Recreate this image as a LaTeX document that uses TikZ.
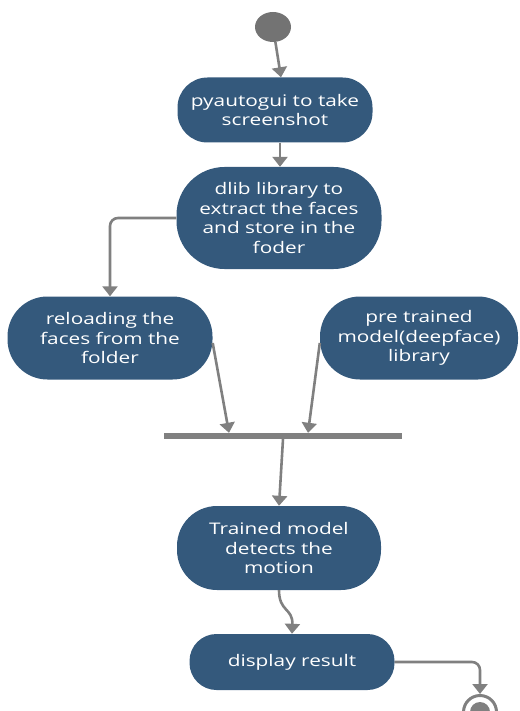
\documentclass[tikz,border=0pt]{standalone}
\usepackage{fontspec}
\setmainfont{Open Sans}[FakeStretch=1.3]
\usepackage{tikz}
\usetikzlibrary{arrows.meta, shapes.geometric}

\definecolor{actblue}{RGB}{52,89,124}
\definecolor{flowgray}{RGB}{128,128,128}

\begin{document}
\begin{tikzpicture}[x=1pt, y=-1pt,
  flow/.style={draw=flowgray, line width=2.6pt, -{Triangle[width=15pt,length=10pt]}},
  act/.style={fill=actblue, text=white, align=center, rounded corners=30pt,
    minimum width=205pt, inner sep=2pt, font=\fontsize{16}{19.5}\selectfont}]
\useasboundingbox (0,0) rectangle (519,711);

\node[ellipse, fill=flowgray!90!black, minimum width=36pt, minimum height=30pt, inner sep=0pt] (s) at (273,27) {};

  \begin{scope}[every node/.style={act}]
  \node[minimum width=195pt, minimum height=65pt] (a) at (275,110) {pyautogui to take\\screenshot};
  \node[minimum height=102pt, rounded corners=48pt] (b) at (279,218) {dlib library to\\extract the faces\\and store in the\\foder};
  \node[minimum height=83pt, rounded corners=40pt] (c) at (110,338) {reloading the\\faces from the\\folder};
  \node[minimum width=198pt, minimum height=83pt, rounded corners=40pt] (d) at (419,338) {pre trained\\model(deepface)\\library};
  \node[minimum width=204pt, minimum height=84pt, rounded corners=40pt] (e) at (279,548) {Trained model\\detects the\\motion};
  \node[minimum height=56pt, rounded corners=27pt] (f) at (292,662) {display result};
  \end{scope}

\node[fill=flowgray, minimum width=238pt, minimum height=6pt, inner sep=0pt] (bar) at (283,436) {};

\node[circle, draw=flowgray, line width=3pt, minimum size=33pt, inner sep=0pt] (z) at (480,712) {};
\fill[flowgray] (z.center) circle (10pt);

  \draw[flow] (s) -- ([xshift=6pt]a.north);
  \draw[flow] ([xshift=5pt]a.south) -- ([xshift=1pt]b.north);
  \draw[flow, rounded corners=8pt] (b.west) -| (c.north);
  \draw[flow] ([yshift=-5pt]c.east) -- ([xshift=-54pt]bar.north);
  \draw[flow] ([yshift=-5pt]d.west) -- ([xshift=25pt]bar.north);
  \draw[flow] (bar.south) -- (e.north);
  \draw[flow] (e.south) .. controls (279,612) and (293,608) .. (f.north);
  \draw[flow, rounded corners=8pt] (f.east) -| (z.north);

\end{tikzpicture}
\end{document}
